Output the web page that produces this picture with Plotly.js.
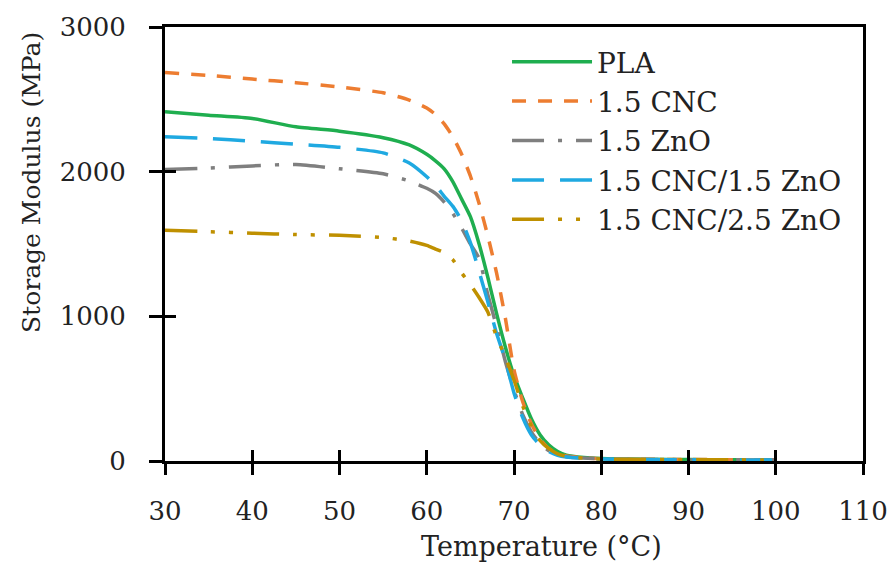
<!DOCTYPE html>
<html>
<head>
<meta charset="utf-8">
<script src="https://cdn.plot.ly/plotly-3.0.1.min.js"></script>
<style>html,body{margin:0;padding:0;background:#fff;}#chart{width:893px;height:563px;}</style>
</head>
<body>
<div id="chart"></div>
<script>
// Temperature grid (°C)
const temperature = [30, 35, 40, 45, 50, 55, 58, 60, 61, 62, 63, 64, 65, 66, 67, 68, 69, 70, 71, 72, 73, 74, 75, 76, 78, 80, 85, 90, 95, 100];

// Storage modulus (MPa) for each sample
const pla      = [2415, 2390, 2368, 2310, 2280, 2235, 2185, 2120, 2075, 2020, 1930, 1810, 1689, 1500, 1270, 1020, 790, 590, 435, 290, 180, 110, 65, 40, 24, 17, 12, 10, 9, 8];
const cnc15    = [2685, 2665, 2640, 2615, 2585, 2545, 2495, 2440, 2395, 2330, 2240, 2120, 1970, 1780, 1555, 1300, 990, 630, 410, 255, 150, 85, 52, 35, 22, 16, 12, 10, 9, 8];
const zno15    = [2015, 2025, 2040, 2050, 2020, 1985, 1935, 1885, 1850, 1790, 1710, 1610, 1500, 1400, 1150, 930, 690, 490, 320, 200, 120, 70, 45, 30, 20, 15, 11, 9, 8, 7];
const cncZno15 = [2242, 2230, 2210, 2190, 2168, 2130, 2060, 1965, 1905, 1830, 1760, 1660, 1510, 1310, 1100, 883, 700, 470, 300, 180, 110, 65, 40, 28, 18, 14, 10, 8, 7, 6];
const cncZno25 = [1595, 1585, 1575, 1565, 1560, 1545, 1520, 1490, 1465, 1440, 1390, 1300, 1220, 1130, 1030, 860, 720, 560, 380, 240, 140, 85, 50, 32, 20, 14, 11, 9, 8, 7];

const seriesNames = ['PLA', '1.5 CNC', '1.5 ZnO', '1.5 CNC/1.5 ZnO', '1.5 CNC/2.5 ZnO'];
const seriesValues = [pla, cnc15, zno15, cncZno15, cncZno25];
const seriesColors = ['#1fae4f', '#ed7d31', '#7f7f7f', '#1fa9e1', '#bf9000'];
const seriesDashes = ['solid', '14px,12px', '32px,14px,4px,14px', '32px,16px', '32px,14px,4px,14px,4px,14px'];

const FONT = 'DejaVu Serif, Liberation Serif, serif';

const traces = seriesNames.map((name, i) => ({
  type: 'scatter',
  mode: 'lines',
  name: name,
  x: temperature,
  y: seriesValues[i],
  line: {color: seriesColors[i], width: 3.5, dash: seriesDashes[i], shape: 'spline', smoothing: 0.6}
}));

// empty helper trace so the overlay axes (inner half of the crossing ticks) are drawn
traces.push({
  type: 'scatter', mode: 'none', x: [temperature[0]], y: [0],
  xaxis: 'x2', yaxis: 'y2', showlegend: false, hoverinfo: 'skip'
});

const layout = {
  width: 893,
  height: 563,
  margin: {l: 165, r: 30, t: 27, b: 102},
  paper_bgcolor: '#ffffff',
  plot_bgcolor: '#ffffff',
  showlegend: true,
  xaxis: {
    range: [30, 110], tick0: 30, dtick: 10,
    showline: true, linecolor: '#000', linewidth: 3, mirror: true,
    ticks: 'outside', ticklen: 11, tickwidth: 3, tickcolor: '#000',
    showgrid: false, zeroline: false, ticklabelstandoff: 14,
    tickfont: {family: FONT, size: 26, color: '#222'}
  },
  xaxis2: {
    overlaying: 'x', anchor: 'y2', side: 'bottom',
    range: [30, 110], tick0: 30, dtick: 10,
    ticks: 'inside', ticklen: 11, tickwidth: 3, tickcolor: '#000',
    showticklabels: false, showline: false, showgrid: false, zeroline: false
  },
  yaxis: {
    range: [0, 3000], tick0: 0, dtick: 1000,
    showline: true, linecolor: '#000', linewidth: 3, mirror: true,
    ticks: 'outside', ticklen: 13, tickwidth: 3, tickcolor: '#000',
    showgrid: false, zeroline: false, ticklabelstandoff: 18,
    tickfont: {family: FONT, size: 26, color: '#222'}
  },
  yaxis2: {
    overlaying: 'y', anchor: 'x2', side: 'left',
    range: [0, 3000], tick0: 0, dtick: 1000,
    ticks: 'inside', ticklen: 11, tickwidth: 3, tickcolor: '#000',
    showticklabels: false, showline: false, showgrid: false, zeroline: false
  },
  legend: {
    x: 0.49, y: 0.977, xanchor: 'left', yanchor: 'top',
    bgcolor: 'rgba(255,255,255,0)', borderwidth: 0,
    itemwidth: 80, tracegroupgap: 0,
    font: {family: FONT, size: 28, color: '#222'}
  },
  annotations: [
    {text: 'Temperature (°C)', xref: 'paper', yref: 'paper', x: 0.5387, y: -0.196,
     xanchor: 'center', yanchor: 'middle', showarrow: false,
     font: {family: FONT, size: 27, color: '#222'}},
    {text: 'Storage Modulus (MPa)', xref: 'paper', yref: 'paper', x: -0.1905, y: 0.6406,
     xanchor: 'center', yanchor: 'middle', textangle: -90, showarrow: false,
     font: {family: FONT, size: 25, color: '#222'}}
  ]
};

Plotly.newPlot('chart', traces, layout, {displayModeBar: false, staticPlot: true});
</script>
</body>
</html>
